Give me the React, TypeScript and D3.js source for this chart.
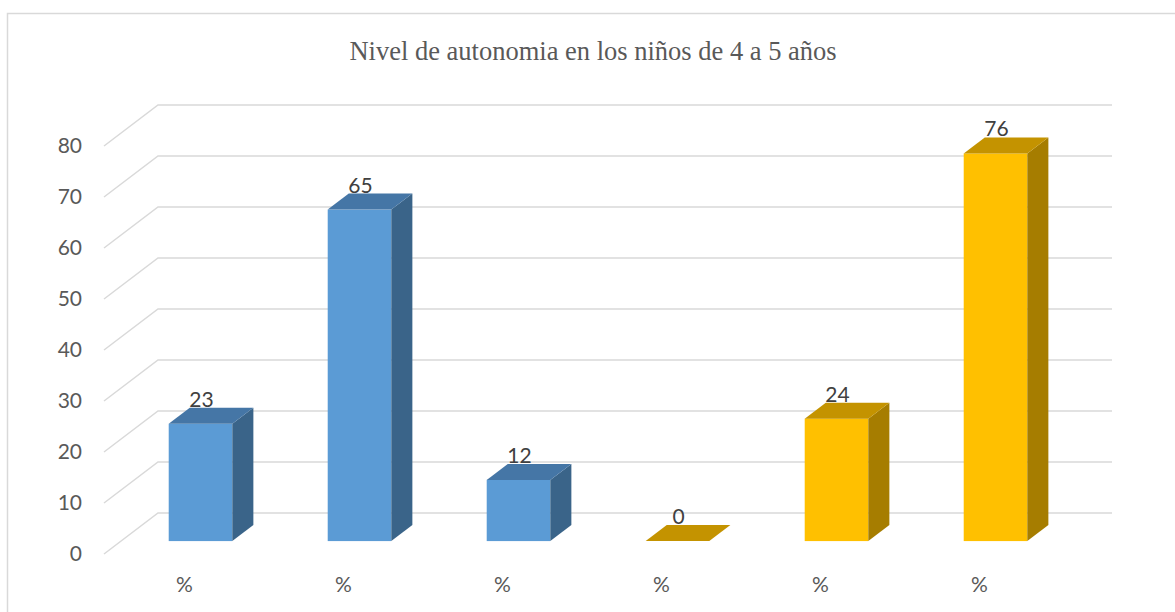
import React, { useEffect, useRef } from 'react';
import { select, scaleBand, scaleLinear, range } from 'd3';

// data
const categories = ['%', '%', '%', '%', '%', '%'];
const blueValues = [23, 65, 12, null, null, null];
const yellowValues = [null, null, null, 0, 24, 76];
const yTicks = [0, 10, 20, 30, 40, 50, 60, 70, 80];
const title = 'Nivel de autonomia en los niños de 4 a 5 años';

const App = () => {
  const svgRef = useRef<SVGSVGElement>(null);

  useEffect(() => {
    const width = 1175;
    const height = 612;

    const svg = select(svgRef.current);
    svg.selectAll('*').remove();
    svg.attr('width', width).attr('height', height);

    // chart frame (runs off the right and bottom of the picture)
    svg.append('rect')
      .attr('x', 7.5).attr('y', 13.5)
      .attr('width', 1200).attr('height', 700)
      .attr('fill', '#fff')
      .attr('stroke', '#d9d9d9')
      .attr('stroke-width', 1.5);

    svg.append('text')
      .attr('x', 593)
      .attr('y', 60)
      .attr('text-anchor', 'middle')
      .style('font-family', '"Liberation Serif", "Times New Roman", serif')
      .style('font-size', '26.5px')
      .style('fill', '#595959')
      .text(title);

    // front plane scales, depth vector goes to the back wall
    const depth = { dx: 54, dy: -41 };
    const x = scaleBand<number>()
      .domain(range(categories.length))
      .range([104, 1058])
      .paddingInner(0)
      .paddingOuter(0);
    const y = scaleLinear().domain([0, 80]).range([554, 146]);

    // gridlines: diagonal on side wall + horizontal on back wall
    const grid = svg.append('g');
    yTicks.forEach(t => {
      const yf = y(t);
      const x0 = x.range()[0];
      grid.append('path')
        .attr('d', `M${x0},${yf}L${x0 + depth.dx},${yf + depth.dy}L${x.range()[1] + depth.dx},${yf + depth.dy}`)
        .attr('fill', 'none')
        .attr('stroke', '#d9d9d9')
        .attr('stroke-width', 1.5);
    });

    // y tick labels
    svg.append('g')
      .selectAll('text')
      .data(yTicks)
      .enter().append('text')
      .attr('x', 82)
      .attr('y', d => y(d))
      .attr('dy', '0.35em')
      .attr('text-anchor', 'end')
      .style('font-family', 'Lato, "Open Sans", sans-serif')
      .style('font-size', '21px')
      .style('fill', '#595959')
      .text(d => d);

    // x labels
    svg.append('g')
      .selectAll('text')
      .data(categories)
      .enter().append('text')
      .attr('x', (d, i) => x(i)! + x.bandwidth() / 2 + 1)
      .attr('y', 592)
      .attr('text-anchor', 'middle')
      .style('font-family', 'Lato, "Open Sans", sans-serif')
      .style('font-size', '21px')
      .style('fill', '#595959')
      .text(d => d);

    const series = [
      { values: blueValues, front: '#5b9bd5', top: '#4576a6', side: '#3a6489' },
      { values: yellowValues, front: '#ffc000', top: '#c49300', side: '#a67d00' },
    ];

    const f0 = 0.315;
    const f1 = 0.705;
    const barW = x.bandwidth() * 0.4;
    const bars = svg.append('g');

    series.forEach(s => {
      s.values.forEach((v, i) => {
        if (v === null) return;
        const cx = x(i)! + x.bandwidth() / 2 + depth.dx * f0;
        const ox = depth.dx * f0;
        const oy = depth.dy * f0;
        const bx = depth.dx * (f1 - f0);
        const by = depth.dy * (f1 - f0);
        const left = cx - barW / 2;
        const right = cx + barW / 2;
        const base = y(0) + oy;
        const top = y(v) + oy;
        const g = bars.append('g');

        if (v > 0) {
          g.append('rect')
            .attr('x', left).attr('y', top)
            .attr('width', barW).attr('height', base - top)
            .attr('fill', s.front);
          g.append('path')
            .attr('d', `M${right},${base}L${right + bx},${base + by}L${right + bx},${top + by}L${right},${top}Z`)
            .attr('fill', s.side);
        }
        g.append('path')
          .attr('d', `M${left},${top}L${right},${top}L${right + bx},${top + by}L${left + bx},${top + by}Z`)
          .attr('fill', s.top);

        g.append('text')
          .attr('x', cx + 1)
          .attr('y', top + by - 1)
          .attr('text-anchor', 'middle')
          .style('font-family', 'Lato, "Open Sans", sans-serif')
          .style('font-size', '21px')
          .style('fill', '#404040')
          .text(v);
        void ox;
      });
    });
  }, []);

  return (
    <div style={{ position: 'absolute', left: 0, top: 0 }}>
      <svg ref={svgRef}></svg>
    </div>
  );
};

export default App;
